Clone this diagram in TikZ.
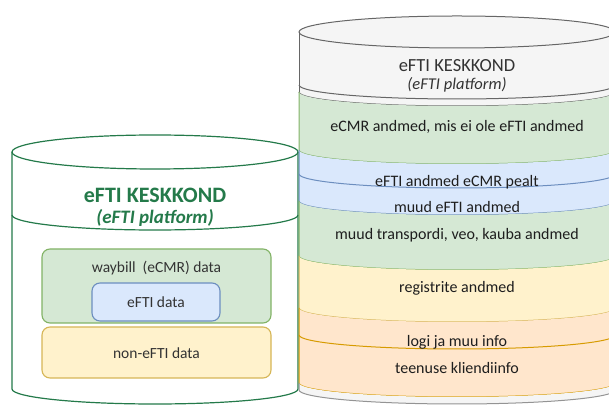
\documentclass[tikz,border=0pt]{standalone}
\usepackage{fontspec}
\setmainfont{Carlito}

\definecolor{lidfill}{HTML}{F5F5F5}
\definecolor{lidline}{HTML}{666666}
\definecolor{gfill}{HTML}{D5E8D4}
\definecolor{gline}{HTML}{82B366}
\definecolor{bfill}{HTML}{DAE8FC}
\definecolor{bline}{HTML}{6C8EBF}
\definecolor{yfill}{HTML}{FFF2CC}
\definecolor{yline}{HTML}{D6B656}
\definecolor{ofill}{HTML}{FFE6CC}
\definecolor{oline}{HTML}{D79B00}
\definecolor{envgreen}{RGB}{36,122,74}
\definecolor{txt}{HTML}{333333}
\definecolor{darktxt}{HTML}{1E1E1E}

% right drum: left/right edge, radii
\def\RL{299}
\def\RR{615}
\def\RX{158}
\def\RY{14}

% one coloured layer of the drum: top y, bottom y (measured from the top), fill, line
\newcommand\drumband[4]{%
  \fill[#3] (\RL,406-#1) arc[start angle=180,end angle=360,x radius=\RX,y radius=\RY]
    -- (\RR,406-#2) arc[start angle=0,end angle=-180,x radius=\RX,y radius=\RY] -- cycle;
  \draw[#4,line width=1pt] (\RL,406-#1) -- (\RL,406-#2)
    arc[start angle=180,end angle=360,x radius=\RX,y radius=\RY] -- (\RR,406-#1);
}
% a thin dividing arc inside a layer
\newcommand\drumarc[2]{%
  \draw[#2,line width=1pt] (\RL,406-#1) arc[start angle=180,end angle=360,x radius=\RX,y radius=\RY];
}

\tikzset{
  boxlabel/.style={inner sep=0pt,text=txt,font=\fontsize{15.5}{17}\selectfont},
  layerlabel/.style={inner sep=0pt,text=darktxt,font=\fontsize{16}{18}\selectfont},
  databox/.style={rounded corners=8pt,line width=1.1pt,inner sep=0pt},
}

\begin{document}
\begin{tikzpicture}[x=1pt,y=1pt]
\useasboundingbox (0,0) rectangle (609,406);
\clip (0,0) rectangle (609,406);

% ---------- left store ----------
\fill[white] (12,406-152) -- (12,406-389)
  arc[start angle=180,end angle=360,x radius=143,y radius=15] -- (298,406-152) -- cycle;
\draw[envgreen,line width=1.2pt] (12,406-152) -- (12,406-389)
  arc[start angle=180,end angle=360,x radius=143,y radius=15] -- (298,406-152);
\draw[envgreen,line width=1.2pt] (155,406-152) ellipse[x radius=143,y radius=17];
\draw[envgreen,line width=1.2pt] (12,406-215)
  arc[start angle=180,end angle=360,x radius=143,y radius=15];

\node[inner sep=0pt,text=envgreen,font=\bfseries\fontsize{22}{24}\selectfont]
  (ltitle) at (155,406-195) {eFTI KESKKOND};
\node[inner sep=0pt,text=envgreen,font=\bfseries\itshape\fontsize{19}{21}\selectfont]
  (lsub) at (155,406-218) {(eFTI platform)};

\node[databox,draw=gline,fill=gfill,minimum width=229pt,minimum height=74pt]
  (waybill) at (156.5,406-286) {};
\node[boxlabel] (waybilltxt) at (156.5,406-268) {waybill\ \ (eCMR) data};
\node[databox,draw=bline,fill=bfill,minimum width=128pt,minimum height=38pt]
  (efti) at (156,406-302) {};
\node[boxlabel] (eftitxt) at (156,406-302) {eFTI data};
\node[databox,draw=yline,fill=yfill,minimum width=229pt,minimum height=51pt]
  (noneft) at (156.5,406-352.5) {};
\node[boxlabel] (nonefttxt) at (156.5,406-353) {non-eFTI data};

% ---------- right drum ----------
% lid
\fill[lidfill] (\RL,406-32) arc[start angle=180,end angle=0,x radius=\RX,y radius=16]
  -- (\RR,406-92) arc[start angle=0,end angle=-180,x radius=\RX,y radius=\RY] -- cycle;
\draw[lidline,line width=1pt] (457,406-32) ellipse[x radius=\RX,y radius=16];
\draw[lidline,line width=1pt] (\RL,406-32) -- (\RL,406-92);
\drumarc{85}{lidline}
\drumarc{92}{lidline}

\drumband{92}{150}{gfill}{gline}
\drumband{150}{201}{bfill}{bline}
\drumarc{174}{bline}
\drumband{201}{256}{gfill}{gline}
\drumband{256}{308}{yfill}{yline}
\drumband{308}{383}{ofill}{oline}
\drumarc{335}{oline}
\drumband{383}{390}{lidfill}{lidline!70}

\node[inner sep=0pt,text=txt,font=\fontsize{18.5}{20}\selectfont]
  (rtitle) at (457,406-66) {eFTI KESKKOND};
\node[inner sep=0pt,text=txt,font=\itshape\fontsize{16.5}{18}\selectfont]
  (rsub) at (457,406-85) {(eFTI platform)};
\node[layerlabel] (ecmr) at (457,406-127) {eCMR andmed, mis ei ole eFTI andmed};
\node[layerlabel] (eftiecmr) at (457,406-182) {eFTI andmed eCMR pealt};
\node[layerlabel] (muudefti) at (457,406-207) {muud eFTI andmed};
\node[layerlabel] (transport) at (457,406-235) {muud transpordi, veo, kauba andmed};
\node[layerlabel] (registers) at (457,406-288) {registrite andmed};
\node[layerlabel] (logs) at (457,406-342) {logi ja muu info};
\node[layerlabel] (clients) at (457,406-368) {teenuse kliendiinfo};
\end{tikzpicture}
\end{document}
